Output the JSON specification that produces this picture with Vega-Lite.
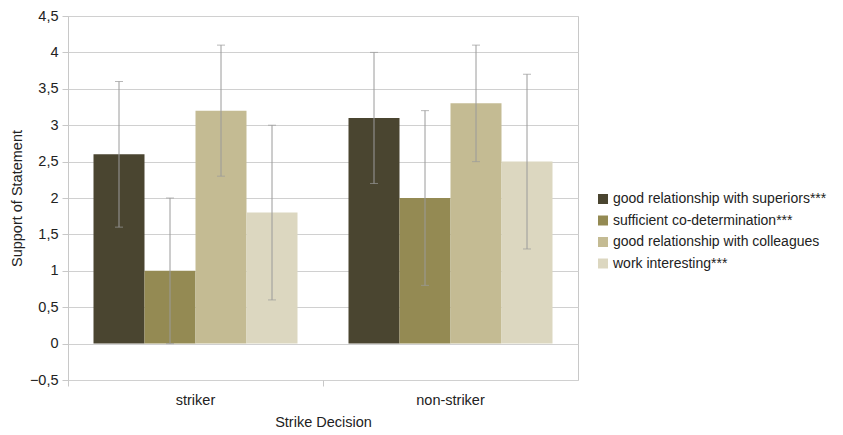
{
  "$schema": "https://vega.github.io/schema/vega-lite/v6.json",
  "width": 510,
  "height": 364,
  "autosize": {"type": "none"},
  "padding": {"left": 68, "top": 16, "right": 265, "bottom": 55},
  "background": "white",
  "config": {
    "font": "Liberation Sans",
    "view": {"stroke": "#c8c8c8", "strokeWidth": 1},
    "axis": {"labelColor": "#222", "titleColor": "#222", "titleFontWeight": "normal", "domainColor": "#c8c8c8", "tickColor": "#c8c8c8", "gridColor": "#d0d0d0"},
    "legend": {"labelColor": "#222"}
  },
  "data": {
    "values": [
      {"decision": "striker", "statement": "good relationship with superiors***", "mean": 2.6, "lo": 1.6, "hi": 3.6},
      {"decision": "striker", "statement": "sufficient co-determination***", "mean": 1.0, "lo": 0.0, "hi": 2.0},
      {"decision": "striker", "statement": "good relationship with colleagues", "mean": 3.2, "lo": 2.3, "hi": 4.1},
      {"decision": "striker", "statement": "work interesting***", "mean": 1.8, "lo": 0.6, "hi": 3.0},
      {"decision": "non-striker", "statement": "good relationship with superiors***", "mean": 3.1, "lo": 2.2, "hi": 4.0},
      {"decision": "non-striker", "statement": "sufficient co-determination***", "mean": 2.0, "lo": 0.8, "hi": 3.2},
      {"decision": "non-striker", "statement": "good relationship with colleagues", "mean": 3.3, "lo": 2.5, "hi": 4.1},
      {"decision": "non-striker", "statement": "work interesting***", "mean": 2.5, "lo": 1.3, "hi": 3.7}
    ]
  },
  "resolve": {"axis": {"x": "independent"}},
  "layer": [
    {
      "mark": {"type": "bar"},
      "encoding": {
        "x": {"field": "decision", "type": "nominal", "sort": ["striker", "non-striker"], "scale": {"paddingInner": 0, "paddingOuter": 0},
              "axis": {"orient": "bottom", "title": "Strike Decision", "labelAngle": 0, "ticks": false, "domain": false, "labelPadding": 13, "titlePadding": 9, "labelFontSize": 14.5, "titleFontSize": 14.5}},
        "xOffset": {"field": "statement", "sort": ["good relationship with superiors***", "sufficient co-determination***", "good relationship with colleagues", "work interesting***"], "scale": {"paddingInner": 0, "paddingOuter": 0.5}},
        "y": {"field": "mean", "type": "quantitative", "title": "Support of Statement",
              "scale": {"domain": [-0.5, 4.5], "nice": false, "zero": false},
              "axis": {"values": [-0.5, 0, 0.5, 1, 1.5, 2, 2.5, 3, 3.5, 4, 4.5], "labelExpr": "replace(format(datum.value, '.1~f'), '.', ',')", "labelOverlap": false, "tickSize": 6, "labelPadding": 4, "titlePadding": 5, "grid": true, "labelFontSize": 14.5, "titleFontSize": 14.5}},
        "y2": {"datum": 0},
        "color": {"field": "statement", "type": "nominal", "sort": ["good relationship with superiors***", "sufficient co-determination***", "good relationship with colleagues", "work interesting***"],
                  "scale": {"range": ["#4a4530", "#948a53", "#c4bb93", "#dcd7c0"]},
                  "legend": {"title": null, "orient": "none", "legendX": 528, "legendY": 176, "symbolType": "square", "symbolSize": 100, "symbolStrokeWidth": 0, "rowPadding": 7.5, "labelOffset": 3, "labelFontSize": 14, "labelLimit": 400}}
      }
    },
    {
      "mark": {"type": "rule", "color": "#9a9a9a", "strokeWidth": 1},
      "encoding": {
        "x": {"field": "decision", "type": "nominal", "sort": ["striker", "non-striker"],
              "axis": {"orient": "bottom", "title": null, "labels": false, "domain": false, "ticks": true, "tickSize": 6, "bandPosition": 0}},
        "xOffset": {"field": "statement", "sort": ["good relationship with superiors***", "sufficient co-determination***", "good relationship with colleagues", "work interesting***"]},
        "y": {"field": "lo", "type": "quantitative", "title": "Support of Statement",
              "axis": {"values": [-0.5, 0, 0.5, 1, 1.5, 2, 2.5, 3, 3.5, 4, 4.5], "labelExpr": "replace(format(datum.value, '.1~f'), '.', ',')", "labelOverlap": false, "tickSize": 6, "labelPadding": 4, "titlePadding": 5, "grid": true, "labelFontSize": 14.5, "titleFontSize": 14.5}},
        "y2": {"field": "hi"}
      }
    },
    {
      "mark": {"type": "tick", "color": "#9a9a9a", "size": 8, "thickness": 1},
      "encoding": {
        "x": {"field": "decision", "type": "nominal", "sort": ["striker", "non-striker"], "axis": null},
        "xOffset": {"field": "statement", "sort": ["good relationship with superiors***", "sufficient co-determination***", "good relationship with colleagues", "work interesting***"]},
        "y": {"field": "lo", "type": "quantitative", "title": "Support of Statement",
              "axis": {"values": [-0.5, 0, 0.5, 1, 1.5, 2, 2.5, 3, 3.5, 4, 4.5], "labelExpr": "replace(format(datum.value, '.1~f'), '.', ',')", "labelOverlap": false, "tickSize": 6, "labelPadding": 4, "titlePadding": 5, "grid": true, "labelFontSize": 14.5, "titleFontSize": 14.5}}
      }
    },
    {
      "mark": {"type": "tick", "color": "#9a9a9a", "size": 8, "thickness": 1},
      "encoding": {
        "x": {"field": "decision", "type": "nominal", "sort": ["striker", "non-striker"], "axis": null},
        "xOffset": {"field": "statement", "sort": ["good relationship with superiors***", "sufficient co-determination***", "good relationship with colleagues", "work interesting***"]},
        "y": {"field": "hi", "type": "quantitative", "title": "Support of Statement",
              "axis": {"values": [-0.5, 0, 0.5, 1, 1.5, 2, 2.5, 3, 3.5, 4, 4.5], "labelExpr": "replace(format(datum.value, '.1~f'), '.', ',')", "labelOverlap": false, "tickSize": 6, "labelPadding": 4, "titlePadding": 5, "grid": true, "labelFontSize": 14.5, "titleFontSize": 14.5}}
      }
    }
  ]
}
